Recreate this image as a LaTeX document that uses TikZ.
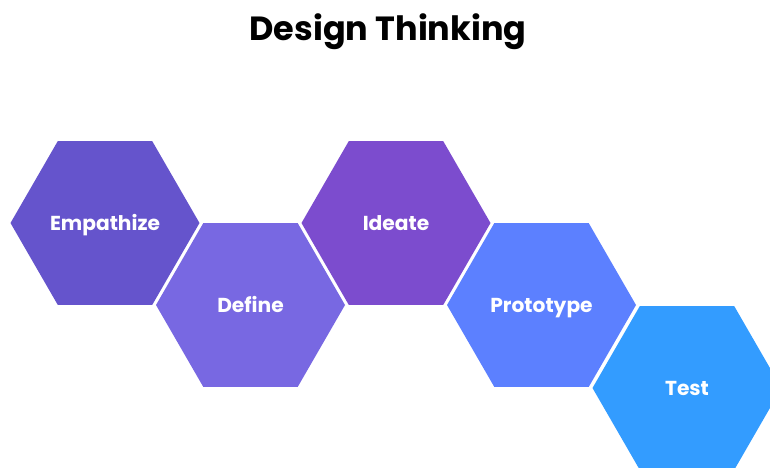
\documentclass[tikz,border=0pt]{standalone}
\usepackage{fontspec}
\setmainfont{Poppins}
\usetikzlibrary{shapes.geometric}
\definecolor{cEmp}{HTML}{6554CC}
\definecolor{cDef}{HTML}{7868E2}
\definecolor{cIde}{HTML}{7C4CCE}
\definecolor{cPro}{HTML}{5C80FF}
\definecolor{cTes}{HTML}{339CFF}
\tikzset{
  hexa/.style={regular polygon, regular polygon sides=6, minimum size=189pt, inner sep=0pt,
    text=white, font=\fontsize{20.2}{22}\selectfont\bfseries, text height=14pt, text depth=0pt},
}
\begin{document}
\begin{tikzpicture}[x=1pt,y=-1pt]
\useasboundingbox (0,0) rectangle (770,467);
\fill[white] (0,0) rectangle (770,467);
\begin{scope}
\clip (0,0) rectangle (770,467);
\node[hexa, fill=cEmp] (emp) at (105,223) {Empathize};
\node[hexa, fill=cDef] (def) at (250.5,305) {Define};
\node[hexa, fill=cIde] (ide) at (396,223) {Ideate};
\node[hexa, fill=cPro] (pro) at (541.5,305) {Prototype};
\node[hexa, fill=cTes] (tes) at (687,388) {Test};
\end{scope}
\node[font=\fontsize{33.5}{36}\selectfont\bfseries, text=black, anchor=base] (title) at (388,40) {Design Thinking};
\end{tikzpicture}
\end{document}
